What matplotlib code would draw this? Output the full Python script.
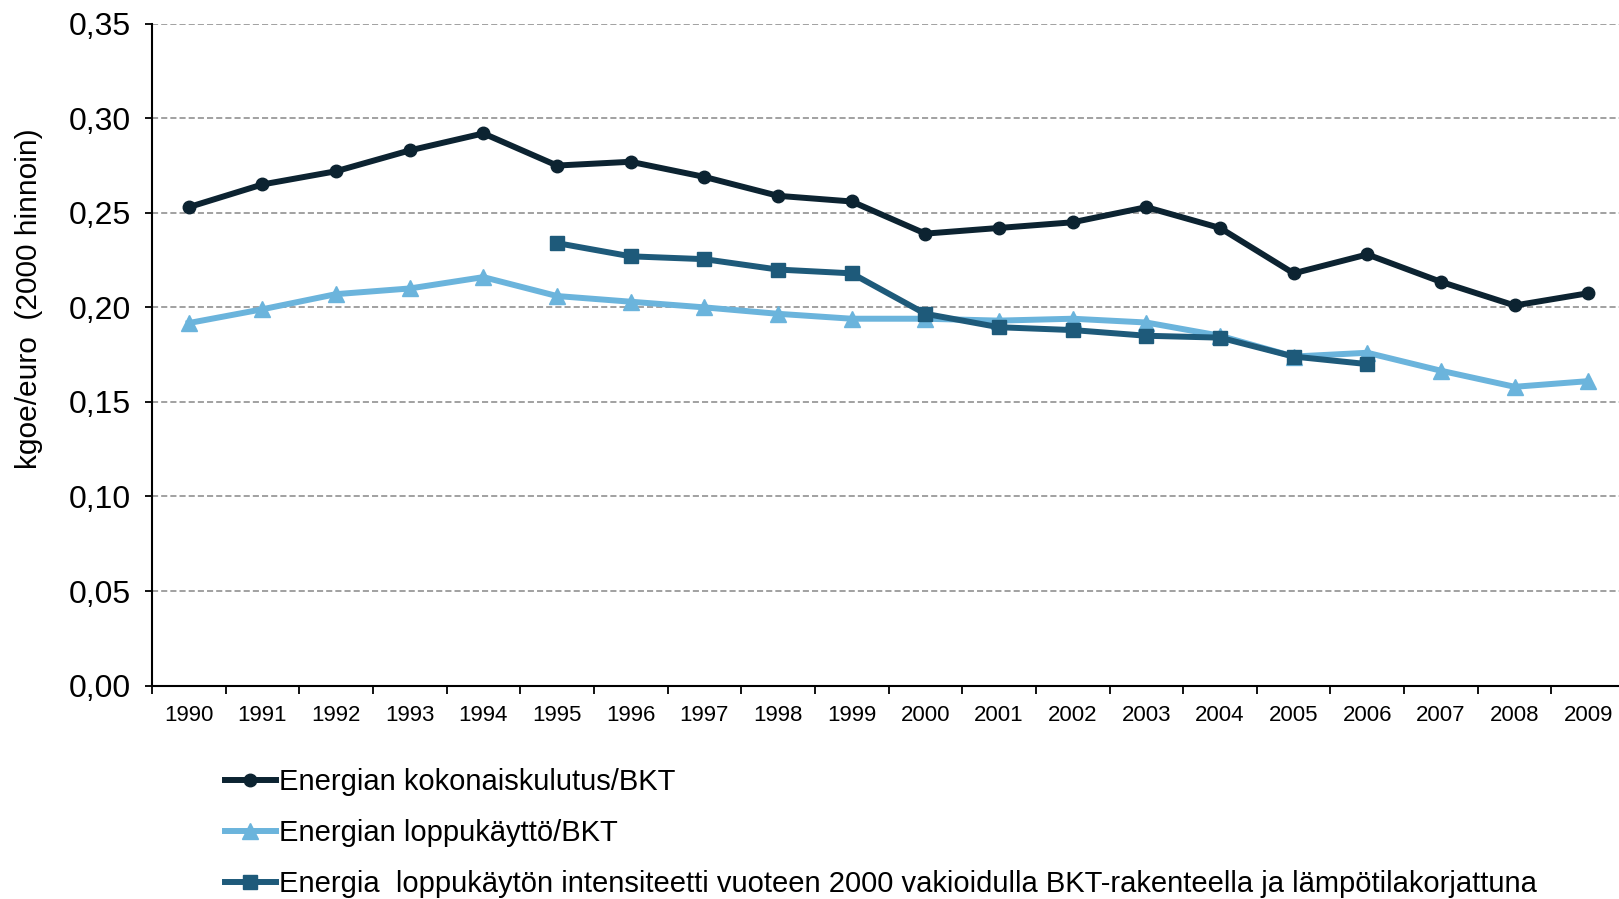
import numpy as np
import matplotlib.pyplot as plt
from matplotlib.ticker import FuncFormatter

# -------------------------- Data --------------------------
years = [str(y) for y in range(1990, 2010)]

total_gdp = [0.253, 0.265, 0.272, 0.283, 0.292, 0.275, 0.277, 0.269, 0.259, 0.256,
             0.239, 0.242, 0.245, 0.253, 0.242, 0.218, 0.228, 0.2135, 0.201, 0.2075]
final_gdp = [0.1917, 0.199, 0.207, 0.210, 0.216, 0.206, 0.203, 0.200, 0.1966, 0.194,
             0.194, 0.193, 0.194, 0.192, 0.185, 0.174, 0.176, 0.1665, 0.158, 0.161]
adj_years = years[5:17]
adj_intensity = [0.234, 0.227, 0.2255, 0.220, 0.218, 0.1966, 0.1895, 0.188, 0.185, 0.184,
                 0.174, 0.170]

labels = ["Energian kokonaiskulutus/BKT",
          "Energian loppukäyttö/BKT",
          "Energia  loppukäytön intensiteetti vuoteen 2000 vakioidulla BKT-rakenteella ja lämpötilakorjattuna"]

# -------------------------- Plot --------------------------
plt.rcParams['font.family'] = ['Liberation Sans', 'DejaVu Sans']

fig = plt.figure(figsize=(16.19, 8.99), dpi=100)
ax = fig.add_axes([0.0938, 0.2374, 0.9100, 0.7362])

x = np.arange(len(years))
xa = np.arange(5, 17)

ax.plot(x, total_gdp, color='#0c2331', lw=4.3, marker='o', ms=9, label=labels[0], zorder=3)
ax.plot(x, final_gdp, color='#6bb4dc', lw=4.3, marker='^', ms=11, label=labels[1], zorder=2)
ax.plot(xa, adj_intensity, color='#1e5a7a', lw=4.3, marker='s', ms=10, label=labels[2], zorder=4)

ax.set_xlim(-0.5, len(years) - 0.5)
ax.set_ylim(0, 0.35)
ax.set_yticks(np.arange(0, 0.351, 0.05))
ax.yaxis.set_major_formatter(FuncFormatter(lambda v, p: f"{v:.2f}".replace('.', ',')))
ax.grid(axis='y', color='#888888', ls=(0, (4, 2)), lw=1.1)
ax.set_axisbelow(True)

ax.set_xticks(x)
ax.set_xticklabels(years, fontsize=16)
ax.set_xticks(np.arange(-0.5, len(years), 1), minor=True)
ax.tick_params(axis='x', which='major', length=0, pad=14)
ax.tick_params(axis='x', which='minor', length=6, width=1.3, direction='out')
ax.tick_params(axis='y', labelsize=23, length=5, width=1.3, pad=10)

for s in ['top', 'right']:
    ax.spines[s].set_visible(False)
ax.spines['left'].set_linewidth(1.5)
ax.spines['bottom'].set_linewidth(1.5)

ax.set_ylabel("kgoe/euro  (2000 hinnoin)", fontsize=21.5)
ax.yaxis.set_label_coords(-0.0736, 0.585)

fig.legend(loc='upper left', bbox_to_anchor=(0.1315, 0.159), frameon=False,
           prop={'size': 21}, handlelength=1.75, handletextpad=0.1,
           labelspacing=0.8, borderaxespad=0)

fig.savefig("out.png", dpi=100)
